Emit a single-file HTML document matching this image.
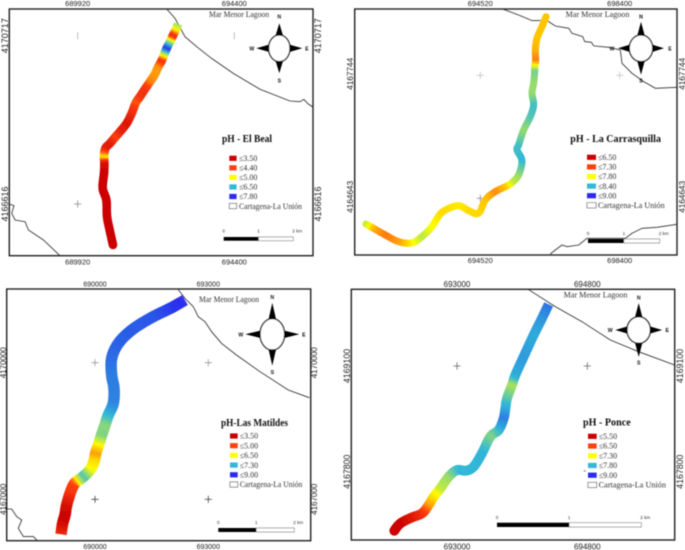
<!DOCTYPE html>
<html lang="en">
<head>
<meta charset="utf-8">
<title>pH maps of four streams draining to the Mar Menor Lagoon</title>
<style>
  html, body { margin: 0; padding: 0; background: #fff; width: 685px; height: 550px; overflow: hidden; }
  svg { display: block; }
  .serif { font-family: "Liberation Serif", serif; }
  .sans { font-family: "Liberation Sans", sans-serif; }
</style>
</head>
<body>
<svg id="figure" xmlns="http://www.w3.org/2000/svg" width="685" height="550" viewBox="0 0 685 550">
  <defs id="defs">
    <filter id="soft" x="-2%" y="-2%" width="104%" height="104%"><feGaussianBlur stdDeviation="0.45"/></filter>
  </defs>
  <rect x="0" y="0" width="685" height="550" fill="#ffffff"/>
  <g id="root" filter="url(#soft)"></g>
</svg>
<script>
/* ---------- shared legend colours ---------- */
const legendColors = ['#cc0000', '#ff4010', '#ffff00', '#30b8d8', '#2a2af0'];

/* ---------- El Beal ---------- */
const bealXTicks = [689920, 694400];
const bealYTicks = [4170717, 4166616];
const bealLevels = [3.5, 4.4, 5.0, 6.5, 7.8];
const bealEast = [692789,692722,692637,692560,692465,692389,692322,692227,692131,691988,691826,691702,691588,691464,691321,691131,690988,690845,690711,690673,690683,690673,690635,690740,690759,690845,690930];
const bealNorth = [4171001,4170855,4170709,4170571,4170408,4170246,4170108,4169962,4169783,4169596,4169393,4169231,4169093,4168825,4168581,4168378,4168240,4168094,4167972,4167769,4167607,4167363,4166998,4166713,4166307,4165942,4165617];
const bealPh = [5.8,5.0,4.0,5.5,7.8,5.2,4.2,4.65,4.7,4.6,4.2,4.2,4.5,4.1,3.8,4.0,4.4,3.9,3.9,5.0,3.7,3.5,3.5,3.5,3.5,3.5,3.5];
const bealCoastEast = [692465,692703,692989,693323,693752,694371,695134,695992,696278,696392,696516,696659];
const bealCoastNorth = [4171367,4171139,4170693,4170449,4170165,4169799,4169410,4169125,4169109,4169166,4169052,4168971];
const bealRoadEast = [687966,688099,688033,688128,688414,688509,688938,689415];
const bealRoadNorth = [4166616,4166575,4166389,4166226,4166185,4165982,4165739,4165357];

/* ---------- La Carrasquilla ---------- */
const carrXTicks = [694520, 698400];
const carrYTicks = [4167744, 4164643];
const carrLevels = [6.5, 7.3, 7.8, 8.4, 9.0];
const carrEast = [696349,696237,696098,696052,696061,696033,696033,696005,695959,696005,695912,695727,695587,695541,695680,695587,695402,695263,694938,694659,694474,694195,693898,693453,693174,692896,692617,692246,691875,691550,691336];
const carrNorth = [4169223,4168971,4168677,4168383,4168131,4167963,4167836,4167542,4167290,4166996,4166702,4166366,4165988,4165862,4165593,4165231,4165038,4164954,4164811,4164601,4164265,4164332,4164458,4164290,4163929,4163676,4163517,4163550,4163719,4163887,4163996];
const carrPh = [7.65,7.65,7.65,7.6,7.45,7.9,8.2,8.1,8.1,8.35,8.3,8.1,8.35,8.35,8.4,8.1,7.95,7.7,7.5,7.65,7.7,7.7,7.75,7.7,7.8,8.0,7.78,7.55,7.45,7.6,7.95];
const carrCoastEast = [695142,695587,695959,696376,696608,696980,697073,697370,697425,697611,697676,698094,698418,698465,698743,699068,699393,699996];
const carrCoastNorth = [4169416,4169265,4169122,4169122,4168988,4168929,4168803,4168719,4168593,4168576,4168484,4168450,4168383,4168047,4167794,4167584,4167416,4167441];
const carrRoadEast = [696469,696608,696794,696933,697258,697490,698558,698743,699022,699439,699996];
const carrRoadNorth = [4163239,4163340,4163466,4163424,4163466,4163634,4163634,4163761,4163887,4163912,4163987];

/* ---------- Las Matildes ---------- */
const matiXTicks = [690000, 693000];
const matiYTicks = [4170000, 4167000];
const matiLevels = [3.5, 5.0, 6.5, 7.3, 9.0];
const matiEast = [692382,692074,691897,691456,690971,690618,690441,690441,690503,690485,690353,690265,690176,690106,690018,689982,689885,689691,689532,689444,689356,689250,689206,689144,689100];
const matiNorth = [4171376,4171229,4171156,4170973,4170717,4170424,4170095,4169729,4169437,4169107,4168851,4168632,4168412,4168229,4168010,4167863,4167666,4167498,4167402,4167329,4167168,4166876,4166656,4166473,4166232];
const matiPh = [9.0,8.9,8.7,8.45,8.4,8.35,8.2,8.0,8.0,7.9,7.3,6.95,7.0,6.6,5.7,6.2,6.5,7.2,6.5,5.0,4.8,3.9,3.5,3.7,4.5];
const matiCoastEast = [692206,692382,692603,692735,692912,693088,693353,693750,694368,695118,695674];
const matiCoastNorth = [4171602,4171412,4171229,4171010,4170900,4170680,4170424,4170168,4169802,4169400,4169232];
const matiRoadEast = [687662,687794,687926,688059,687970,688103,688368,688473];
const matiRoadNorth = [4166788,4166788,4166620,4166546,4166363,4166181,4166181,4166093];

/* ---------- Ponce ---------- */
const ponceXTicks = [693000, 694800];
const ponceYTicks = [4169100, 4167800];
const ponceLevels = [5.5, 6.5, 7.3, 7.8, 9.0];
const ponceEast = [694266,694174,694059,693921,693806,693760,693691,693668,693645,693576,693460,693345,693230,693124,693000,692885,692770,692678,692609,692517,692378,692217,692134];
const ponceNorth = [4169859,4169686,4169481,4169215,4168989,4168866,4168702,4168579,4168456,4168313,4168231,4168026,4167861,4167812,4167820,4167738,4167595,4167492,4167390,4167287,4167238,4167164,4167074];
const poncePh = [8.4,8.1,7.9,8.05,7.9,7.5,7.7,7.9,8.3,7.8,7.6,7.85,7.8,7.8,7.8,7.55,7.45,7.2,6.9,6.3,5.9,5.5,5.5];
const ponceCoastEast = [693990,694358,694727,695118,695509,696006];
const ponceCoastNorth = [4170039,4169830,4169645,4169420,4169276,4169112];

/* ---------- scale-bar labels ---------- */
const scaleLabels = ['0', '1', '2 km'];

const NS = 'http://www.w3.org/2000/svg';
const root = document.getElementById('root');
const defs = document.getElementById('defs');

function make(tag, attrs, parent, content) {
  const el = document.createElementNS(NS, tag);
  for (const k in attrs) el.setAttribute(k, attrs[k]);
  if (content !== undefined) el.textContent = content;
  (parent || root).appendChild(el);
  return el;
}
function hexToRgb(h) {
  return [parseInt(h.slice(1, 3), 16), parseInt(h.slice(3, 5), 16), parseInt(h.slice(5, 7), 16)];
}
function phColor(v, levels) {
  if (v <= levels[0]) return legendColors[0];
  for (let i = 1; i < levels.length; i++) {
    if (v <= levels[i]) {
      const t = (v - levels[i - 1]) / (levels[i] - levels[i - 1]);
      const a = hexToRgb(legendColors[i - 1]);
      const b = hexToRgb(legendColors[i]);
      return 'rgb(' + a.map((c, j) => Math.round(c + (b[j] - c) * t)).join(',') + ')';
    }
  }
  return legendColors[legendColors.length - 1];
}
function linearScale(d0, d1, r0, r1) {
  return v => r0 + (v - d0) / (d1 - d0) * (r1 - r0);
}
function catmull(a, b, c, d, t) {
  return 0.5 * (2 * b + (c - a) * t + (2 * a - 5 * b + 4 * c - d) * t * t + (3 * b - a - 3 * c + d) * t * t * t);
}

function drawCompass(g, c) {
  const wrap = make('g', {}, g);
  
  
  const arms = [
    [0, -1, c.armY, 'N', c.labelY],
    [0, 1, c.armY, 'S', c.labelY],
    [-1, 0, c.armX, 'W', c.labelX],
    [1, 0, c.armX, 'E', c.labelX]
  ];
  arms.forEach(a => {
    const bx = c.cx + a[0] * (a[0] ? c.rx - 1 : 0);
    const by = c.cy + a[1] * (a[1] ? c.ry - 1 : 0);
    const tx = c.cx + a[0] * a[2];
    const ty = c.cy + a[1] * a[2];
    const w = 3.8;
    const pts = a[0]
      ? [[tx, ty], [bx, by - w], [bx, by + w]]
      : [[tx, ty], [bx - w, by], [bx + w, by]];
    make('polygon', { points: pts.map(p => p.join(',')).join(' '), fill: '#000' }, wrap);
    const lbl = make('text', {
      x: c.cx + a[0] * a[4],
      y: c.cy + a[1] * a[4] + 2,
      'text-anchor': 'middle',
      'font-size': 5.2,
      'font-weight': 'bold',
      fill: '#111',
      class: 'sans'
    }, wrap, a[3]);
    
    
  });
  const ring = make('ellipse', { cx: c.cx, cy: c.cy, rx: c.rx, ry: c.ry, fill: '#fff', stroke: '#000', 'stroke-width': 1.25 }, wrap);
  
  
}

function drawStream(inner, p, xScale, yScale) {
  const L = p.layout;
  const stream = make('g', {}, inner);
  
  
  const px = p.east.map(xScale);
  const py = p.north.map(yScale);
  const n = px.length;
  const steps = 5;
  const at = (arr, i) => arr[Math.max(0, Math.min(n - 1, i))];
  const fine = [];
  for (let i = 0; i < n - 1; i++) {
    for (let s = 0; s < steps; s++) {
      const t = s / steps;
      fine.push({
        x: catmull(at(px, i - 1), px[i], px[i + 1], at(px, i + 2), t),
        y: catmull(at(py, i - 1), py[i], py[i + 1], at(py, i + 2), t),
        v: p.ph[i] + (p.ph[i + 1] - p.ph[i]) * t
      });
    }
  }
  fine.push({ x: px[n - 1], y: py[n - 1], v: p.ph[n - 1] });
  const r = L.width / 2;
  const m = fine.length;
  const farFromEnd = pt => {
    const d0 = Math.hypot(pt.x - fine[0].x, pt.y - fine[0].y);
    const d1 = Math.hypot(pt.x - fine[m - 1].x, pt.y - fine[m - 1].y);
    return (L.roundStart || d0 >= r) && (L.roundEnd || d1 >= r);
  };
  fine.forEach(pt => {
    if (!farFromEnd(pt)) return;
    const dot = make('circle', { cx: pt.x.toFixed(2), cy: pt.y.toFixed(2), r: r, fill: phColor(pt.v, p.levels) }, stream);
    
    
  });
  for (let i = 0; i < m - 1; i++) {
    const seg = make('line', {
      x1: fine[i].x.toFixed(2), y1: fine[i].y.toFixed(2),
      x2: fine[i + 1].x.toFixed(2), y2: fine[i + 1].y.toFixed(2),
      stroke: phColor((fine[i].v + fine[i + 1].v) / 2, p.levels),
      'stroke-width': L.width
    }, stream);
    
    
  }
}

function drawPanel(p) {
  const g = make('g', {});
  
  

  const L = p.layout;
  const xScale = linearScale(p.xTicks[0], p.xTicks[1], L.tickX0, L.tickX1);
  const yScale = linearScale(p.yTicks[0], p.yTicks[1], L.tickY0, L.tickY1);

  const clipId = 'clip-' + p.key;
  const clip = make('clipPath', { id: clipId }, defs);
  make('rect', { x: L.left, y: L.top, width: L.right - L.left, height: L.bottom - L.top }, clip);
  const inner = make('g', { 'clip-path': 'url(#' + clipId + ')' }, g);

  /* grid crosses */
  L.crosses.forEach(c => {
    const cg = make('g', { stroke: c.color, 'stroke-width': 0.8 }, inner);
    
    
    const px = xScale(p.xTicks[c.i]);
    const py = yScale(p.yTicks[c.j]);
    make('line', { x1: px, x2: px, y1: py - 3.6, y2: py + 3.6 }, cg);
    if (c.full) make('line', { x1: px - 3.6, x2: px + 3.6, y1: py, y2: py }, cg);
  });

  /* coast + second boundary */
  [[p.coastE, p.coastN, 'coastline'], [p.roadE, p.roadN, 'municipal-boundary']].forEach(s => {
    if (!s[0]) return;
    const line = make('polyline', {
      points: s[0].map((e, i) => xScale(e).toFixed(1) + ',' + yScale(s[1][i]).toFixed(1)).join(' '),
      fill: 'none',
      stroke: '#2e2e2e',
      'stroke-width': 0.85
    }, inner);
    
    
  });

  drawStream(inner, p, xScale, yScale);

  /* frame */
  const frame = make('rect', {
    x: L.left, y: L.top, width: L.right - L.left, height: L.bottom - L.top,
    fill: 'none', stroke: '#222', 'stroke-width': 1.4
  }, g);
  
  

  /* tick labels */
  p.xTicks.forEach(v => {
    [L.topLabelY, L.bottomLabelY].forEach((y, k) => {
      const t = make('text', {
        x: xScale(v), y: y, 'text-anchor': 'middle', 'font-size': L.xFont, fill: '#222', class: 'sans'
      }, g, String(v));
      
      
    });
  });
  p.yTicks.forEach(v => {
    [L.leftLabelX, L.rightLabelX].forEach((x, k) => {
      const y = yScale(v) + L.yShift;
      const t = make('text', {
        x: x, y: y, 'text-anchor': 'middle', 'font-size': L.yFont, fill: '#222', class: 'sans',
        transform: 'rotate(-90 ' + x + ' ' + y + ')'
      }, g, String(v));
      
      
    });
  });

  /* lagoon label */
  const lagoon = make('text', {
    x: L.lagoonX, y: L.lagoonY, 'font-size': 8, fill: '#333', class: 'serif',
    textLength: L.lagoonW, lengthAdjust: 'spacingAndGlyphs'
  }, g, 'Mar Menor Lagoon');
  
  

  drawCompass(g, L.compass);

  /* legend */
  const legend = make('g', {}, g);
  
  
  const title = make('text', {
    x: L.titleX, y: L.titleY, 'font-size': 11, 'font-weight': 'bold', fill: '#111', class: 'serif',
    textLength: L.titleW, lengthAdjust: 'spacingAndGlyphs'
  }, legend, p.title);
  
  
  p.levels.forEach((lv, i) => {
    const y = L.rowY + i * L.rowStep;
    const sw = make('rect', { x: L.swatchX, y: y - 2.6, width: L.swatchW, height: 5.2, fill: legendColors[i] }, legend);
    
    
    const txt = make('text', {
      x: L.textX, y: y + 2.7, 'font-size': 8, fill: '#333', class: 'serif'
    }, legend, '≤' + lv.toFixed(2));
    
    
  });
  const y5 = L.rowY + 5 * L.rowStep;
  const box = make('rect', {
    x: L.swatchX, y: y5 - 2.6, width: L.swatchW, height: 5.2, fill: '#fff', stroke: '#333', 'stroke-width': 0.6
  }, legend);
  
  
  const boxText = make('text', {
    x: L.textX, y: y5 + 2.7, 'font-size': 8, fill: '#333', class: 'serif',
    textLength: L.unionW, lengthAdjust: 'spacingAndGlyphs'
  }, legend, 'Cartagena-La Unión');
  
  

  /* scale bar */
  const sb = make('g', {}, g);
  
  
  const S = L.scale;
  const mid = (S.x0 + S.x1) / 2;
  make('rect', { x: S.x0, y: S.y, width: mid - S.x0, height: S.h, fill: '#000' }, sb);
  make('rect', { x: mid, y: S.y, width: S.x1 - mid, height: S.h, fill: '#fff', stroke: '#333', 'stroke-width': 0.5 }, sb);
  [S.x0, mid, S.x1].forEach((x, i) => {
    const t = make('text', {
      x: x, y: S.labelY, 'text-anchor': i === 2 ? 'start' : 'middle', 'font-size': 4.6, fill: '#333', class: 'sans',
      dx: i === 2 ? -1 : 0
    }, sb, scaleLabels[i]);
    
    
  });

  if (L.stray) {
    const d = make('line', { x1: L.stray[0], x2: L.stray[0] + 2, y1: L.stray[1], y2: L.stray[1], stroke: '#333', 'stroke-width': 0.7 }, g);
    
    
  }
}

drawPanel({
  key: 'el-beal', title: 'pH - El Beal',
  xTicks: bealXTicks, yTicks: bealYTicks, levels: bealLevels,
  east: bealEast, north: bealNorth, ph: bealPh,
  coastE: bealCoastEast, coastN: bealCoastNorth, roadE: bealRoadEast, roadN: bealRoadNorth,
  layout: {
    left: 9.3, top: 9, right: 313, bottom: 255.7,
    tickX0: 77.7, tickX1: 234.3, tickY0: 35.7, tickY1: 204,
    width: 8.6, roundStart: false, roundEnd: true,
    crosses: [
      { i: 0, j: 0, color: '#aaaaaa', full: false },
      { i: 1, j: 0, color: '#aaaaaa', full: false },
      { i: 0, j: 1, color: '#888888', full: true }
    ],
    topLabelY: 6.2, bottomLabelY: 264.5, xFont: 7.5,
    leftLabelX: 8, rightLabelX: 321, yFont: 9, yShift: 0,
    lagoonX: 209, lagoonY: 17, lagoonW: 60,
    compass: { cx: 279.3, cy: 48.3, rx: 10.7, ry: 13.3, armX: 23, armY: 25, labelX: 27.5, labelY: 32 },
    titleX: 222, titleY: 142, titleW: 50,
    swatchX: 229.3, swatchW: 7.3, textX: 239, rowY: 158.3, rowStep: 9.55, unionW: 63,
    scale: { x0: 223.7, x1: 293.3, y: 237, h: 3.7, labelY: 232.5 }
  }
});

drawPanel({
  key: 'la-carrasquilla', title: 'pH - La Carrasquilla',
  xTicks: carrXTicks, yTicks: carrYTicks, levels: carrLevels,
  east: carrEast, north: carrNorth, ph: carrPh,
  coastE: carrCoastEast, coastN: carrCoastNorth, roadE: carrRoadEast, roadN: carrRoadNorth,
  layout: {
    left: 354.7, top: 9, right: 677, bottom: 255,
    tickX0: 480.3, tickX1: 619.7, tickY0: 75.3, tickY1: 198.3,
    width: 7, roundStart: true, roundEnd: true,
    crosses: [
      { i: 0, j: 0, color: '#c4c4c4', full: true },
      { i: 1, j: 0, color: '#c4c4c4', full: true },
      { i: 0, j: 1, color: '#888888', full: true }
    ],
    topLabelY: 6.2, bottomLabelY: 263, xFont: 7.5,
    leftLabelX: 353, rightLabelX: 685, yFont: 8.2, yShift: -1.5,
    lagoonX: 565.7, lagoonY: 17, lagoonW: 63.7,
    compass: { cx: 641, cy: 48.3, rx: 11.7, ry: 13.3, armX: 23, armY: 26.5, labelX: 29, labelY: 32 },
    titleX: 570.3, titleY: 142, titleW: 90.7,
    swatchX: 587, swatchW: 9, textX: 598, rowY: 157.3, rowStep: 9.6, unionW: 66.7,
    scale: { x0: 588, x1: 659.7, y: 239, h: 4, labelY: 235 }
  }
});

drawPanel({
  key: 'las-matildes', title: 'pH-Las Matildes',
  xTicks: matiXTicks, yTicks: matiYTicks, levels: matiLevels,
  east: matiEast, north: matiNorth, ph: matiPh,
  coastE: matiCoastEast, coastN: matiCoastNorth, roadE: matiRoadEast, roadN: matiRoadNorth,
  layout: {
    left: 6.7, top: 289, right: 310.7, bottom: 540.7,
    tickX0: 95, tickX1: 208.3, tickY0: 362.7, tickY1: 499.3,
    width: 11.4, roundStart: false, roundEnd: false,
    crosses: [
      { i: 0, j: 0, color: '#999999', full: true },
      { i: 1, j: 0, color: '#999999', full: true },
      { i: 0, j: 1, color: '#444444', full: true },
      { i: 1, j: 1, color: '#444444', full: true }
    ],
    topLabelY: 286.5, bottomLabelY: 549, xFont: 7,
    leftLabelX: 6.2, rightLabelX: 317, yFont: 8, yShift: 0,
    lagoonX: 199, lagoonY: 302, lagoonW: 60,
    compass: { cx: 272.3, cy: 334.3, rx: 12.3, ry: 15.7, armX: 27, armY: 31.5, labelX: 31.5, labelY: 37.5 },
    titleX: 221, titleY: 426, titleW: 67,
    swatchX: 230, swatchW: 7.7, textX: 239.7, rowY: 436, rowStep: 9.7, unionW: 62.7,
    scale: { x0: 218.3, x1: 294.3, y: 528, h: 4, labelY: 524 }
  }
});

drawPanel({
  key: 'ponce', title: 'pH - Ponce',
  xTicks: ponceXTicks, yTicks: ponceYTicks, levels: ponceLevels,
  east: ponceEast, north: ponceNorth, ph: poncePh,
  coastE: ponceCoastEast, coastN: ponceCoastNorth,
  layout: {
    left: 351.3, top: 289.3, right: 674.7, bottom: 540,
    tickX0: 457, tickX1: 587.3, tickY0: 366, tickY1: 471.7,
    width: 9.8, roundStart: false, roundEnd: true,
    crosses: [
      { i: 0, j: 0, color: '#666666', full: true },
      { i: 1, j: 0, color: '#666666', full: true },
      { i: 0, j: 1, color: '#222222', full: true }
    ],
    topLabelY: 286.8, bottomLabelY: 549.5, xFont: 8,
    leftLabelX: 350, rightLabelX: 683, yFont: 8.8, yShift: 0,
    lagoonX: 563.7, lagoonY: 297.5, lagoonW: 63.7,
    compass: { cx: 638.7, cy: 330, rx: 11.7, ry: 13.3, armX: 23.5, armY: 27, labelX: 28.5, labelY: 32.5 },
    titleX: 583, titleY: 425.5, titleW: 47.7,
    swatchX: 588, swatchW: 8.7, textX: 598.7, rowY: 436.3, rowStep: 9.73, unionW: 67.3,
    scale: { x0: 497, x1: 641.3, y: 522.7, h: 4.3, labelY: 519 },
    stray: [583.7, 471]
  }
});
</script>
</body>
</html>
